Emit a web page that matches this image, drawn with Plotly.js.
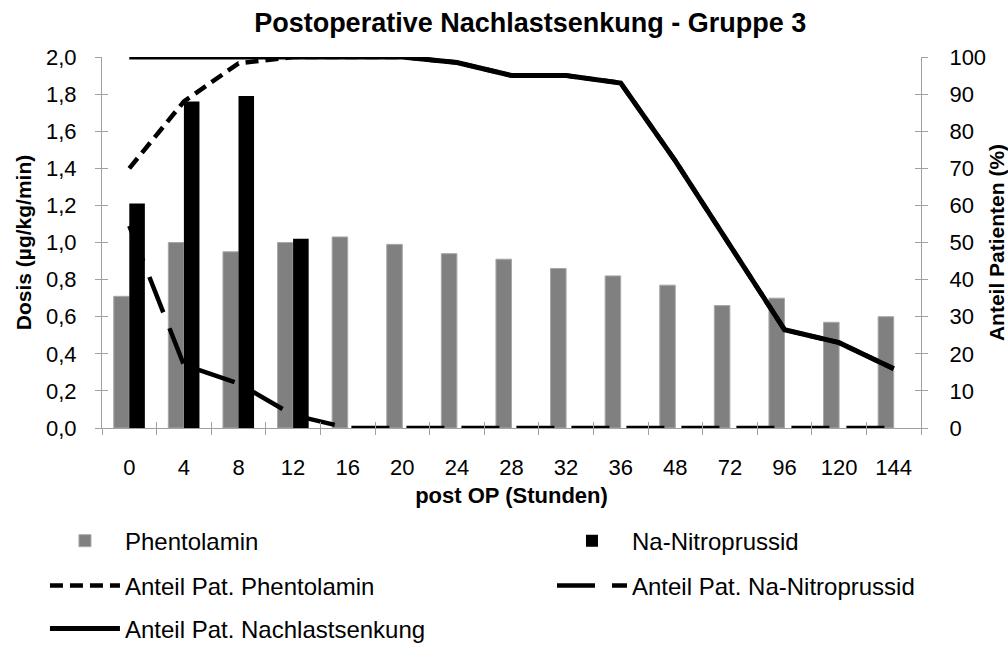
<!DOCTYPE html>
<html>
<head>
<meta charset="utf-8">
<script src="https://cdn.plot.ly/plotly-3.0.1.min.js"></script>
<style>html,body{margin:0;padding:0;background:#fff;}#chart{width:1008px;height:648px;}</style>
</head>
<body>
<div id="chart"></div>
<script>
// Data
var hours = ["0","4","8","12","16","20","24","28","32","36","48","72","96","120","144"];
var dosePhentolamin = [0.71,1.00,0.95,1.00,1.03,0.99,0.94,0.91,0.86,0.82,0.77,0.66,0.70,0.57,0.60];
var doseNitroprussid = [1.21,1.76,1.79,1.02,null,null,null,null,null,null,null,null,null,null,null];
var shareNachlast = [100,100,100,100,100,100,98.5,95,95,93,72,49,26.5,23,16];
var sharePhentolamin = [70,88,98.3,100,100,100,98.5,95,95,93,72,49,26.5,23,16];
var shareNitroprussid = [54.5,17,12,3.5,0,0,0,0,0,0,0,0,0,0,0];

var FONT = "Liberation Sans, Arial, sans-serif";
var AX = "#a0a0a0";

var traces = [
  {type:"bar", name:"Phentolamin", x:hours, y:dosePhentolamin, legend:"legend",
   marker:{color:"#808080", line:{color:"#a8a8a8", width:1}}},
  {type:"bar", name:"Na-Nitroprussid", x:hours, y:doseNitroprussid, legend:"legend2",
   marker:{color:"#000000", line:{width:0}}},
  {type:"scatter", mode:"lines", name:"Anteil Pat. Phentolamin", x:hours, y:sharePhentolamin, yaxis:"y2", legend:"legend3",
   line:{color:"#000", width:4.5, dash:"13px,7px"}},
  {type:"scatter", mode:"lines", name:"Anteil Pat. Na-Nitroprussid", x:hours, y:shareNitroprussid, yaxis:"y2", legend:"legend4",
   line:{color:"#000", width:4.5, dash:"38px,17px"}},
  {type:"scatter", mode:"lines", name:"Anteil Pat. Nachlastsenkung", x:hours, y:shareNachlast, yaxis:"y2", legend:"legend5",
   line:{color:"#000", width:5}},
  // helpers carrying the inner half of the crossing tick marks
  {type:"scatter", mode:"lines", x:hours, y:hours.map(function(){return null;}), xaxis:"x2", yaxis:"y3", showlegend:false, hoverinfo:"skip"},
  {type:"scatter", mode:"lines", x:hours, y:hours.map(function(){return null;}), xaxis:"x2", yaxis:"y4", showlegend:false, hoverinfo:"skip"}
];

function leg(x, y) {
  return {x:x, y:y, xref:"container", yref:"container", xanchor:"left", yanchor:"middle", orientation:"h", itemwidth:70,
          font:{family:FONT, size:24, color:"#000"}, bgcolor:"rgba(0,0,0,0)", borderwidth:0};
}

var layout = {
  width:1008, height:648,
  margin:{l:102, r:87, t:57, b:220, pad:0},
  paper_bgcolor:"#fff", plot_bgcolor:"#fff",
  separators:",.",
  showlegend:true,
  barmode:"group", bargap:0.43, bargroupgap:0,
  font:{family:FONT, size:22, color:"#000"},
  title:{text:"Postoperative Nachlastsenkung - Gruppe 3", x:0.526, xanchor:"center", y:0.965, yanchor:"middle",
         font:{family:FONT, size:27, weight:"bold", color:"#000"}},
  xaxis:{type:"category", categoryarray:hours, range:[-0.5,14.5], tickson:"boundaries",
         ticks:"outside", ticklen:6, tickcolor:AX, tickwidth:1, showline:true, linecolor:AX, linewidth:1,
         showgrid:false, zeroline:false, ticklabelstandoff:20,
         tickfont:{family:FONT, size:22, color:"#000"},
         title:{text:"post OP (Stunden)", standoff:8, font:{family:FONT, size:22, weight:"bold", color:"#000"}}},
  xaxis2:{type:"category", categoryarray:hours, range:[-0.5,14.5], overlaying:"x", anchor:"y", side:"bottom",
          tickson:"boundaries", ticks:"inside", ticklen:6, tickcolor:AX, tickwidth:1, showticklabels:false,
          showline:false, showgrid:false, zeroline:false},
  yaxis:{range:[0,2], dtick:0.2, tick0:0, tickformat:".1f", ticks:"outside", ticklen:6, tickcolor:AX,
         showline:true, linecolor:AX, linewidth:1, showgrid:false, zeroline:false, ticklabelstandoff:14,
         tickfont:{family:FONT, size:22, color:"#000"},
         title:{text:"Dosis (µg/kg/min)", standoff:8, font:{family:FONT, size:21, weight:"bold", color:"#000"}}},
  yaxis2:{range:[0,100], dtick:10, tick0:0, overlaying:"y", side:"right", anchor:"x", ticks:"outside", ticklen:6,
          tickcolor:AX, showline:true, linecolor:AX, linewidth:1, showgrid:false, zeroline:false, ticklabelstandoff:17,
          tickfont:{family:FONT, size:22, color:"#000"},
          title:{text:"Anteil Patienten (%)", standoff:8, font:{family:FONT, size:21, weight:"bold", color:"#000"}}},
  yaxis3:{range:[0,2], dtick:0.2, tick0:0, overlaying:"y", side:"left", anchor:"x", ticks:"inside", ticklen:6,
          tickcolor:AX, showticklabels:false, showline:false, showgrid:false, zeroline:false},
  yaxis4:{range:[0,100], dtick:10, tick0:0, overlaying:"y", side:"right", anchor:"x", ticks:"inside", ticklen:6,
          tickcolor:AX, showticklabels:false, showline:false, showgrid:false, zeroline:false},
  legend:leg(0.0446, 0.165),
  legend2:leg(0.5476, 0.165),
  legend3:leg(0.0446, 0.0957),
  legend4:leg(0.5476, 0.0957),
  legend5:leg(0.0446, 0.0293)
};

Plotly.newPlot("chart", traces, layout, {displayModeBar:false, staticPlot:true});
</script>
</body>
</html>
